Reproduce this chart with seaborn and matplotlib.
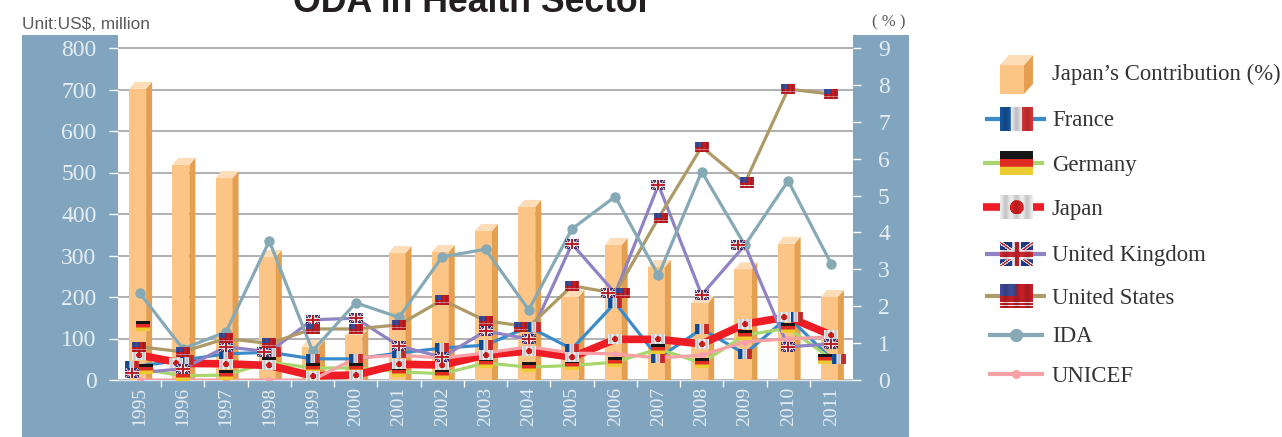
import numpy as np
import pandas as pd
import matplotlib
matplotlib.use('Agg')
import matplotlib.pyplot as plt
from matplotlib.lines import Line2D
from matplotlib.patches import Polygon, Rectangle
from matplotlib.offsetbox import AnnotationBbox, OffsetImage
import seaborn as sns

years = [str(y) for y in range(1995, 2012)]

# Japan's contribution in %, right axis
contribution = [7.89, 5.83, 5.47, 3.33, 0.90, 1.22, 3.44, 3.47, 4.04, 4.69, 2.25, 3.66, 3.06, 2.09, 3.00, 3.69, 2.25]

# US$ million, left axis
france = [34, 48, 63, 67, 51, 51, 65, 77, 84, 128, 75, 186, 53, 123, 63, 152, 51]
germany = [27, 10, 12, 43, 29, 29, 20, 15, 41, 31, 35, 43, 75, 41, 108, 125, 51]
japan = [60, 40, 39, 35, 10, 12, 38, 36, 60, 70, 55, 98, 98, 87, 135, 152, 108]
uk = [18, 27, 80, 68, 145, 149, 82, 55, 118, 99, 328, 209, 470, 205, 325, 80, 87]
us = [80, 68, 100, 88, 123, 123, 133, 193, 143, 128, 227, 209, 390, 562, 475, 701, 689]
ida = [210, 75, 116, 335, 70, 186, 151, 297, 315, 169, 364, 442, 252, 502, 325, 480, 279]
unicef = [0, 0, 0, 0, 0, 53, 60, 53, 65, 80, 65, 63, 53, 60, 92, 99, 104]
germany_extra_1995 = 130

left_ticks = [0, 100, 200, 300, 400, 500, 600, 700, 800]
right_ticks = [0, 1, 2, 3, 4, 5, 6, 7, 8, 9]

PANEL = '#82a5bf'
TICK_TXT = '#e6edf2'
C_FRANCE = '#3a8bca'
C_GERMANY = '#a8d66c'
C_JAPAN = '#ee1c25'
C_UK = '#8f83c4'
C_US = '#ad9a66'
C_IDA = '#85a9b5'
C_UNICEF = '#f7a1a6'
BAR_FRONT = '#fcc586'
BAR_SIDE = '#e4a050'
BAR_TOP = '#fddcb8'

W, H = 1282, 437
DPI = 100
X0, X1, Y0, Y1 = 118, 853, 380, 35
PX_PER_MIL = 0.415
PX_PER_PCT = 36.9
PX_PER_CAT = (X1 - X0) / len(years)


def sheen(w):
    # metallic look of the flags
    x = np.linspace(0, 1, w)
    return 0.84 + 0.16 * np.cos(x * 2 * np.pi * 1.5) ** 2


def finish(img):
    out = img * sheen(img.shape[1])[None, :, None]
    return np.clip(out, 0, 1)


def flag_france(h=40, w=56):
    img = np.ones((h, w, 3)) * np.array([0.9, 0.9, 0.92])
    img[:, :w // 3] = [0.09, 0.33, 0.62]
    img[:, 2 * w // 3:] = [0.84, 0.2, 0.2]
    return finish(img)


def flag_germany(h=40, w=56):
    img = np.zeros((h, w, 3))
    img[:h // 3] = [0.09, 0.09, 0.09]
    img[h // 3:2 * h // 3] = [0.88, 0.18, 0.14]
    img[2 * h // 3:] = [0.93, 0.8, 0.2]
    return img


def flag_japan(h=40, w=56):
    img = np.ones((h, w, 3)) * 0.93
    yy, xx = np.mgrid[:h, :w]
    img[(xx - w / 2) ** 2 + (yy - h / 2) ** 2 < (h * 0.3) ** 2] = [0.85, 0.13, 0.13]
    return finish(img)


def flag_uk(h=40, w=56):
    img = np.ones((h, w, 3)) * np.array([0.13, 0.23, 0.55])
    yy, xx = np.mgrid[:h, :w]
    u, v = xx / w - 0.5, yy / h - 0.5
    diag = np.minimum(np.abs(u - v), np.abs(u + v))
    img[diag < 0.09] = [0.95, 0.95, 0.95]
    img[diag < 0.035] = [0.8, 0.15, 0.2]
    img[(np.abs(u) < 0.13) | (np.abs(v) < 0.2)] = [0.95, 0.95, 0.95]
    img[(np.abs(u) < 0.07) | (np.abs(v) < 0.11)] = [0.8, 0.15, 0.2]
    return finish(img)


def flag_us(h=40, w=56):
    img = np.ones((h, w, 3)) * np.array([0.78, 0.12, 0.15])
    img[h - 10:h - 8] = [0.95, 0.95, 0.95]
    img[h - 5:h - 3] = [0.95, 0.95, 0.95]
    img[:h // 2, :w // 2] = [0.25, 0.3, 0.6]
    return finish(img)


def put_flag(ax, img, x, y, width_px, dx_px=0, zorder=6):
    zoom = width_px / img.shape[1] * 72 / DPI
    box = OffsetImage(img, zoom=zoom, interpolation='antialiased')
    ab = AnnotationBbox(box, (x, y), xybox=(dx_px * 72 / DPI, 0), boxcoords='offset points',
                        frameon=False, pad=0, annotation_clip=False, zorder=zorder)
    ax.add_artist(ab)


sns.set_theme(style='white')
plt.rcParams['font.family'] = ['Liberation Serif', 'DejaVu Sans']

fig = plt.figure(figsize=(W / DPI, H / DPI), dpi=DPI)

# whole figure in pixels: blue panel, title, legend
bg = fig.add_axes([0, 0, 1, 1], zorder=0)
bg.set_xlim(0, W)
bg.set_ylim(H, 0)
bg.axis('off')
bg.add_patch(Rectangle((22, Y1), 909 - 22, H - Y1, color=PANEL, lw=0))

bg.text(472, 12, 'ODA in Health Sector', family='Liberation Sans', weight='bold', fontsize=25.7,
        color='#231f20', ha='center', va='baseline', clip_on=False)
bg.text(22, 29, 'Unit:US$, million', family='Liberation Sans', fontsize=12.4, color='#58595b', va='baseline')
bg.text(889, 26, '( % )', fontsize=12, color='#58595b', ha='center', va='baseline')

# main axes, left scale holds the grid
ax = fig.add_axes([X0 / W, 1 - Y0 / H, (X1 - X0) / W, (Y0 - Y1) / H], zorder=1)
ax.set_facecolor('white')
ax_pct = ax.twinx()
ax_pct.set_zorder(2)
ax_line = ax.twinx()
ax_line.set_zorder(3)

pos = np.arange(len(years))

df_bar = pd.DataFrame({'year': years, 'pct': contribution})
sns.barplot(data=df_bar, x='year', y='pct', color=BAR_FRONT, saturation=1, width=17 / PX_PER_CAT,
            errorbar=None, ax=ax_pct, zorder=2)
dx = 6 / PX_PER_CAT
dy = 7 / PX_PER_PCT
for bar in ax_pct.patches:
    bar.set_x(bar.get_x() - 2 / PX_PER_CAT)
    bar.set_linewidth(0)
    bx, bw, bh = bar.get_x(), bar.get_width(), bar.get_height()
    ax_pct.add_patch(Polygon([(bx + bw, 0), (bx + bw + dx, 0), (bx + bw + dx, bh + dy), (bx + bw, bh)],
                             color=BAR_SIDE, lw=0, zorder=2))
    ax_pct.add_patch(Polygon([(bx, bh), (bx + bw, bh), (bx + bw + dx, bh + dy), (bx + dx, bh + dy)],
                             color=BAR_TOP, lw=0, zorder=2))

series = [
    ('France', france, C_FRANCE, 2.3, None, 0),
    ('Germany', germany, C_GERMANY, 2.3, None, 0),
    ('Japan', japan, C_JAPAN, 5.5, None, 0),
    ('UK', uk, C_UK, 2.3, None, 0),
    ('US', us, C_US, 2.3, None, 0),
    ('IDA', ida, C_IDA, 2.3, 'o', 7.5),
    ('UNICEF', unicef, C_UNICEF, 2.3, 'o', 5),
]
for name, vals, col, lw, mk, ms in series:
    sns.lineplot(x=pos, y=vals, color=col, linewidth=lw, marker=mk, markersize=ms, markeredgewidth=0,
                 errorbar=None, sort=False, ax=ax_line, zorder=3, solid_joinstyle='miter')

# some flags sit beside their point in the original, (series, year index) -> px
nudge = {
    ('France', 0): -8, ('UK', 0): -8, ('Germany', 0): 6, ('US', 0): -1, ('Japan', 0): -1,
    ('Japan', 1): -7, ('France', 1): 4, ('UK', 1): 0, ('UK', 3): -5, ('France', 3): 5,
    ('US', 9): -8, ('France', 9): 5, ('UK', 11): -7, ('US', 11): 8, ('US', 12): 3,
    ('UK', 14): -7, ('US', 14): 2, ('Japan', 15): -4, ('France', 15): 8,
    ('Germany', 16): -6, ('France', 16): 8,
}
flag_sets = [('France', france, flag_france()), ('Germany', germany, flag_germany()),
             ('Japan', japan, flag_japan()), ('UK', uk, flag_uk()), ('US', us, flag_us())]
for k, (name, vals, img) in enumerate(flag_sets):
    for i, v in enumerate(vals):
        put_flag(ax_line, img, pos[i], v, 14, nudge.get((name, i), 0), zorder=6 + k)
put_flag(ax_line, flag_germany(), pos[0], germany_extra_1995, 14, 3, zorder=6)

ax.set_ylim(0, (Y0 - Y1) / PX_PER_MIL)
ax_line.set_ylim(0, (Y0 - Y1) / PX_PER_MIL)
ax_pct.set_ylim(0, (Y0 - Y1) / PX_PER_PCT)
ax.set_xlim(-0.5, len(years) - 0.5)

ax.set_xlabel('')
ax.set_ylabel('')
ax_pct.set_xlabel('')
ax_pct.set_ylabel('')
ax_line.set_xlabel('')
ax_line.set_ylabel('')

ax.set_yticks(left_ticks)
ax.set_yticklabels([str(v) for v in left_ticks])
ax.yaxis.grid(True, color='#a3a3a6', linewidth=1.2)
ax.xaxis.grid(False)
ax.set_axisbelow(True)
ax.tick_params(axis='y', left=True, length=6.5, width=1, color='white', labelcolor=TICK_TXT,
               labelsize=17, pad=9)

ax_pct.set_yticks(right_ticks)
ax_pct.set_yticklabels([str(v) for v in right_ticks])
ax_pct.tick_params(axis='y', right=True, length=6, width=1, color='white', labelcolor=TICK_TXT,
                   labelsize=17, pad=12)
ax_pct.yaxis.grid(False)
ax_line.yaxis.set_visible(False)
ax_line.grid(False)

ax_pct.xaxis.set_visible(False)
ax_line.xaxis.set_visible(False)
ax.set_xticks(pos)
ax.set_xticklabels(years, rotation=90, ha='center', va='top')
ax.set_xticks(pos[:-1] + 0.5, minor=True)
ax.tick_params(axis='x', which='major', length=0, labelcolor=TICK_TXT, labelsize=14, pad=5)
ax.tick_params(axis='x', which='minor', bottom=True, length=5, width=1, color='white')

for a in (ax, ax_pct, ax_line):
    for sp in a.spines.values():
        sp.set_visible(False)
ax.spines['bottom'].set_visible(True)
ax.spines['bottom'].set_color('#dbe4ea')
ax.spines['bottom'].set_linewidth(1)

# legend, drawn in pixels on the background axes
bg.add_patch(Rectangle((1000, 65), 24, 29, color=BAR_FRONT, lw=0))
bg.add_patch(Polygon([(1024, 65), (1033, 55), (1033, 84), (1024, 94)], color=BAR_SIDE, lw=0))
bg.add_patch(Polygon([(1000, 65), (1009, 55), (1033, 55), (1024, 65)], color=BAR_TOP, lw=0))

legend_rows = [
    ('Japan\u2019s Contribution (%)', 72, None, 0, 0, 0, None, None),
    ('France', 119, C_FRANCE, 985, 1046, 3, None, flag_france()),
    ('Germany', 163, C_GERMANY, 983, 1044, 3, None, flag_germany()),
    ('Japan', 207, C_JAPAN, 983, 1044, 5.5, None, flag_japan()),
    ('United Kingdom', 254, C_UK, 985, 1046, 3, None, flag_uk()),
    ('United States', 296, C_US, 985, 1046, 3, None, flag_us()),
    ('IDA', 335, C_IDA, 988, 1044, 3, 9.5, None),
    ('UNICEF', 374, C_UNICEF, 988, 1044, 3, 6.5, None),
]
for label, y, col, xa, xb, lw, ms, img in legend_rows:
    bg.text(1052, y + 2, label, fontsize=16.4, color='#333333', va='center')
    if col is None:
        continue
    bg.add_line(Line2D([xa, xb], [y, y], color=col, lw=lw, solid_capstyle='butt'))
    if ms:
        bg.add_line(Line2D([(xa + xb) / 2], [y], color=col, marker='o', ms=ms, mew=0))
    if img is not None:
        put_flag(bg, img, 1016, y, 33)

fig.savefig('out.png', dpi=DPI)
